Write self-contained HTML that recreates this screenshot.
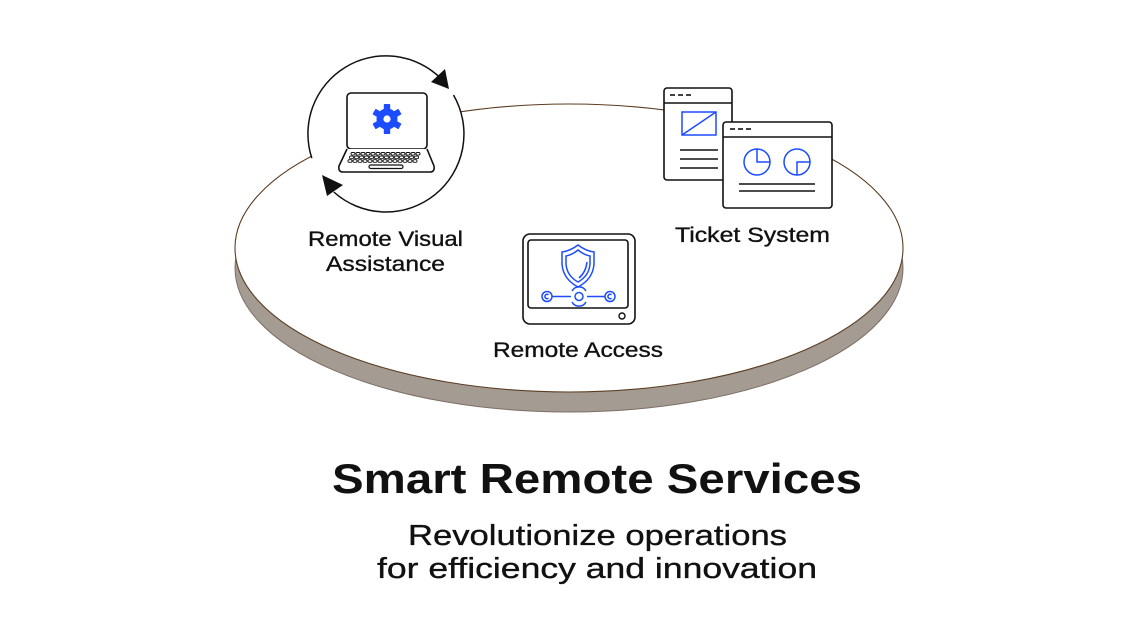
<!DOCTYPE html>
<html>
<head>
<meta charset="utf-8">
<style>
  html,body{margin:0;padding:0;background:#fff;}
  svg{display:block;}
  text{font-family:"Liberation Sans",sans-serif;fill:#111;}
  .reg{stroke:#111;stroke-width:0.35;}
</style>
</head>
<body>
<svg width="1140" height="642" viewBox="0 0 1140 642" xmlns="http://www.w3.org/2000/svg">
  <rect width="1140" height="642" fill="#fff"/>

  <!-- Disc -->
  <ellipse cx="569" cy="268" rx="334" ry="144" fill="#a49b93" stroke="#7d6f64" stroke-width="1"/>
  <ellipse cx="569" cy="248" rx="334" ry="144" fill="#fff" stroke="#5c3d22" stroke-width="1.1"/>

  <!-- Remote Visual Assistance circle -->
  <circle cx="386" cy="134" r="78" fill="#fff"/>
  <path d="M453.5,95 A78,78 0 0 1 333.8,192" fill="none" stroke="#111" stroke-width="1.5"/>
  <path d="M311.8,158.1 A78,78 0 0 1 441.2,78.8" fill="none" stroke="#111" stroke-width="1.5"/>
  <polygon points="449,89 445,69 431,82" fill="#111"/>
  <polygon points="322,175 327,196 343,185" fill="#111"/>

  <!-- Laptop -->
  <rect x="347" y="93" width="80" height="56" rx="4" fill="#fff" stroke="#111" stroke-width="1.6"/>
  <path d="M347,149 L339,166 Q338,172 343,172 L430,172 Q435,172 434,166 L427,149" fill="#fff" stroke="#111" stroke-width="1.6" stroke-linejoin="round"/>
  <g fill="none" stroke="#111" stroke-width="0.9">
    <g id="krow">
      <rect x="351" y="152.5" width="4" height="2.6" rx="1.2"/>
      <rect x="356" y="152.5" width="4" height="2.6" rx="1.2"/>
      <rect x="361" y="152.5" width="4" height="2.6" rx="1.2"/>
      <rect x="366" y="152.5" width="4" height="2.6" rx="1.2"/>
      <rect x="371" y="152.5" width="4" height="2.6" rx="1.2"/>
      <rect x="376" y="152.5" width="4" height="2.6" rx="1.2"/>
      <rect x="381" y="152.5" width="4" height="2.6" rx="1.2"/>
      <rect x="386" y="152.5" width="4" height="2.6" rx="1.2"/>
      <rect x="391" y="152.5" width="4" height="2.6" rx="1.2"/>
      <rect x="396" y="152.5" width="4" height="2.6" rx="1.2"/>
      <rect x="401" y="152.5" width="4" height="2.6" rx="1.2"/>
      <rect x="406" y="152.5" width="4" height="2.6" rx="1.2"/>
      <rect x="411" y="152.5" width="4" height="2.6" rx="1.2"/>
      <rect x="416" y="152.5" width="4" height="2.6" rx="1.2"/>
    </g>
    <use href="#krow" transform="translate(-1.5,3.6)"/>
    <use href="#krow" transform="translate(-3,7.2)"/>
  </g>
  <rect x="369" y="165" width="34" height="3.5" rx="1.7" fill="#fff" stroke="#111" stroke-width="1.2"/>

  <!-- Gear -->
  <g fill="#1c4cff" transform="translate(387,119)">
    <circle r="10.5"/>
    <rect x="-3.2" y="-15" width="6.4" height="30" rx="0.8"/>
    <rect x="-3.2" y="-15" width="6.4" height="30" rx="0.8" transform="rotate(60)"/>
    <rect x="-3.2" y="-15" width="6.4" height="30" rx="0.8" transform="rotate(120)"/>
    <circle r="3.6" fill="#fff"/>
  </g>

  <!-- Ticket System back window -->
  <rect x="664" y="88" width="68" height="92" rx="3" fill="#fff" stroke="#111" stroke-width="1.6"/>
  <line x1="664" y1="103" x2="732" y2="103" stroke="#111" stroke-width="1.6"/>
  <g stroke="#111" stroke-width="1.6">
    <line x1="670" y1="95" x2="675" y2="95"/>
    <line x1="678" y1="95" x2="683" y2="95"/>
    <line x1="686" y1="95" x2="691" y2="95"/>
    <line x1="680" y1="150" x2="718" y2="150"/>
    <line x1="680" y1="159" x2="718" y2="159"/>
    <line x1="680" y1="168" x2="718" y2="168"/>
  </g>
  <rect x="682" y="112" width="34" height="23" fill="none" stroke="#1c4cff" stroke-width="1.5"/>
  <line x1="682" y1="135" x2="716" y2="112" stroke="#1c4cff" stroke-width="1.5"/>

  <!-- Ticket System front window -->
  <rect x="723" y="122" width="109" height="86" rx="3" fill="#fff" stroke="#111" stroke-width="1.6"/>
  <line x1="723" y1="137" x2="832" y2="137" stroke="#111" stroke-width="1.6"/>
  <g stroke="#111" stroke-width="1.6">
    <line x1="730" y1="129" x2="735" y2="129"/>
    <line x1="738" y1="129" x2="743" y2="129"/>
    <line x1="746" y1="129" x2="751" y2="129"/>
    <line x1="739" y1="184" x2="815" y2="184"/>
    <line x1="739" y1="191" x2="815" y2="191"/>
  </g>
  <g fill="none" stroke="#1c4cff" stroke-width="1.5">
    <circle cx="757" cy="162" r="13"/>
    <path d="M757,149 L757,162 L770,162"/>
    <circle cx="797" cy="162" r="13"/>
    <path d="M797,175 L797,162 L810,162"/>
  </g>

  <!-- Remote Access monitor -->
  <rect x="523" y="234" width="112" height="90" rx="7" fill="#fff" stroke="#111" stroke-width="1.6"/>
  <rect x="528" y="240" width="100" height="68" rx="3" fill="#fff" stroke="#111" stroke-width="1.6"/>
  <circle cx="622" cy="316" r="3" fill="none" stroke="#111" stroke-width="1.4"/>
  <g fill="none" stroke="#1c4cff" stroke-width="1.5">
    <path d="M578,245 Q570,251 562,252 L562,264 Q563,279 578,287 Q593,279 594,264 L594,252 Q586,251 578,245 Z"/>
    <path d="M578,250 Q572,255 566,256 L566,264 Q567,276 578,282 Q589,276 590,264 L590,256 Q584,255 578,250 Z"/>
    <path d="M587,262 Q586,272 579,278"/>
    <line x1="552" y1="296.5" x2="571" y2="296.5"/>
    <line x1="587" y1="296.5" x2="605" y2="296.5"/>
    <circle cx="547" cy="296.5" r="5"/>
    <path d="M548.5,294.8 A2.2,2.2 0 1 0 548.5,298.2"/>
    <circle cx="610" cy="296.5" r="5"/>
    <path d="M611.5,294.8 A2.2,2.2 0 1 0 611.5,298.2"/>
    <path d="M572,291 A8,8 0 0 1 586,291"/>
    <path d="M572,302 A8,8 0 0 0 586,302"/>
    <circle cx="579" cy="296.5" r="4"/>
  </g>

  <!-- Labels -->
  <text class="reg" x="308" y="246" font-size="21" textLength="155" lengthAdjust="spacingAndGlyphs">Remote Visual</text>
  <text class="reg" x="326" y="271" font-size="21" textLength="119" lengthAdjust="spacingAndGlyphs">Assistance</text>
  <text class="reg" x="675" y="242" font-size="21" textLength="155" lengthAdjust="spacingAndGlyphs">Ticket System</text>
  <text class="reg" x="493" y="357" font-size="21" textLength="170" lengthAdjust="spacingAndGlyphs">Remote Access</text>

  <!-- Title -->
  <text x="332" y="493" font-size="42" font-weight="bold" textLength="530" lengthAdjust="spacingAndGlyphs">Smart Remote Services</text>
  <text class="reg" x="408" y="545" font-size="29" textLength="379" lengthAdjust="spacingAndGlyphs">Revolutionize operations</text>
  <text class="reg" x="377" y="578" font-size="29" textLength="440" lengthAdjust="spacingAndGlyphs">for efficiency and innovation</text>
</svg>
</body>
</html>
